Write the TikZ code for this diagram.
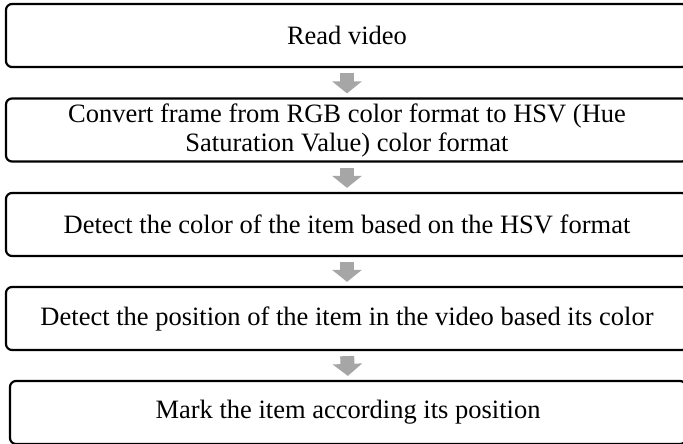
\documentclass[tikz,border=0pt]{standalone}
\usepackage{fontspec}
\setmainfont{Liberation Serif}
\usetikzlibrary{arrows.meta}
\definecolor{arrowgray}{HTML}{A6A6A6}

\begin{document}
\begin{tikzpicture}[x=1pt, y=1pt,
    font=\fontsize{26.5}{29}\selectfont,
    stepbox/.style={draw, line width=2.2pt, rounded corners=6pt,
                    minimum width=#1, minimum height=63pt,
                    inner ysep=2pt, align=center},
    flow/.style={arrowgray, line width=14pt,
                 -{Triangle[width=29pt, length=12pt]},
                 shorten <=5pt, shorten >=4pt}]
  \useasboundingbox (0,0) rectangle (683,444);
  \clip (0,0) rectangle (683,444);
  %% Steps, top to bottom
  \node[stepbox=682pt] (read) at (347,408.5) {Read video};
  \node[stepbox=682pt] (convert) at (347,314)
    {Convert frame from RGB color format to HSV (Hue\\
     Saturation Value) color format};
  \node[stepbox=682pt] (color) at (347,219.5)
    {Detect the color of the item based on the HSV format};
  \node[stepbox=682pt] (position) at (347,125.5)
    {Detect the position of the item in the video based its color};
  \node[stepbox=676pt] (mark) at (348,31.5)
    {Mark the item according its position};
  %% Block arrows between steps
  \foreach \from/\to in {read/convert,convert/color,color/position,position/mark}
    \draw[flow] (\from.south) -- (\to.north);
\end{tikzpicture}
\end{document}
